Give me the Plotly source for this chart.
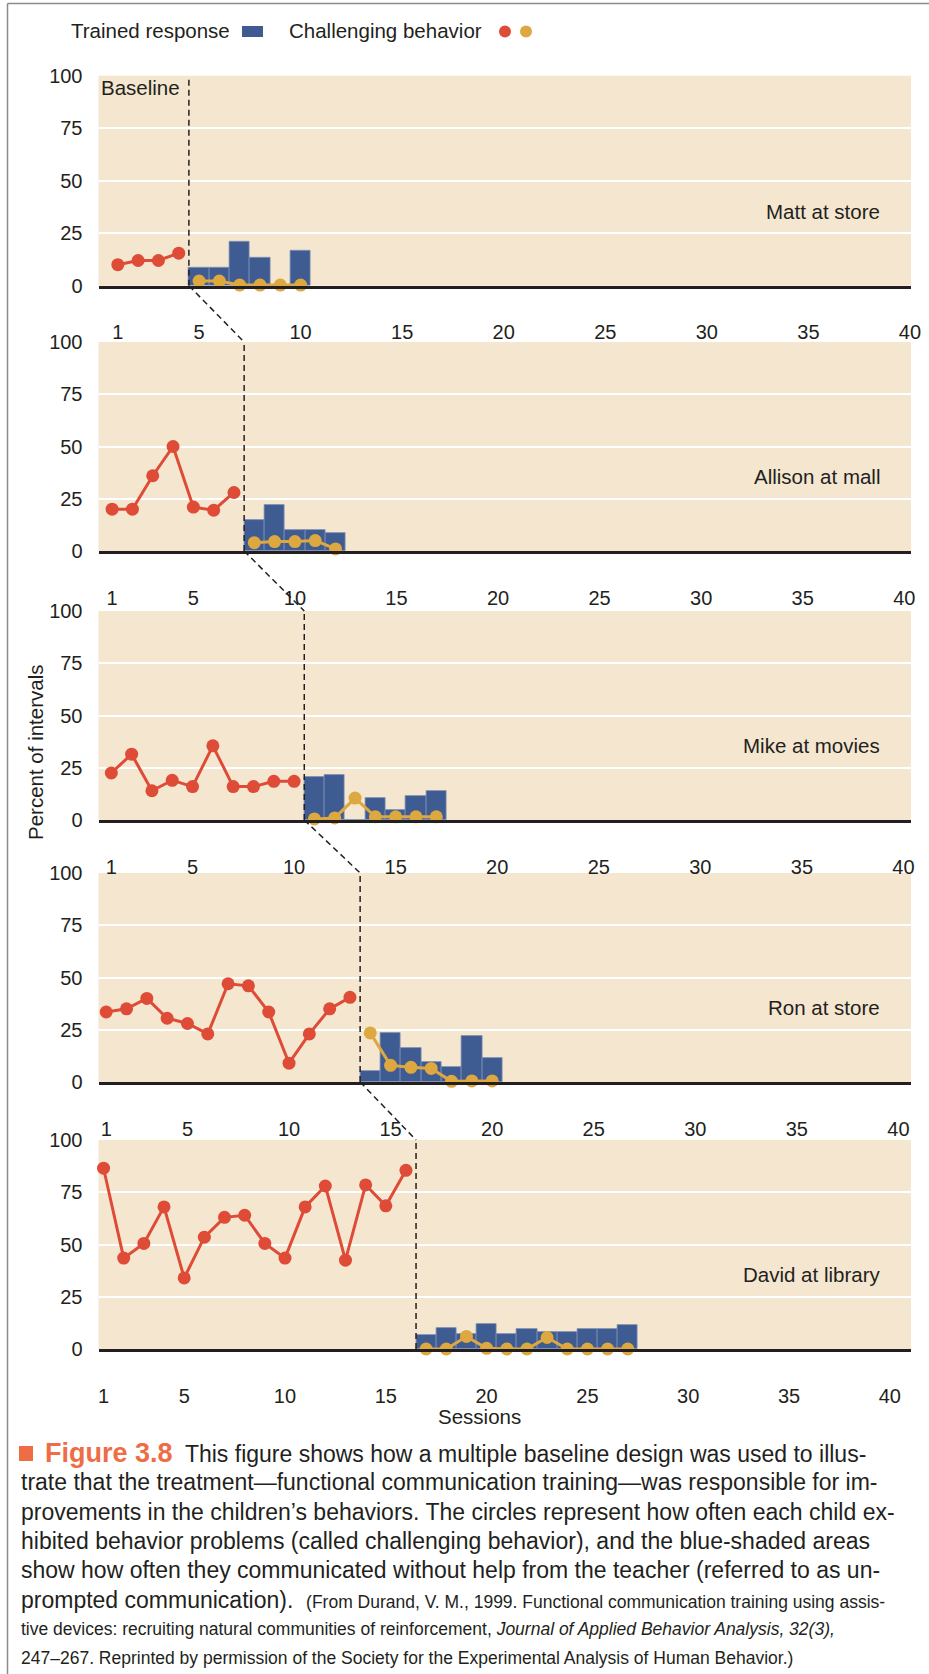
import plotly.graph_objects as go

W, H = 929, 1674

# ---------------- data ----------------
panel_names = ["Matt at store", "Allison at mall", "Mike at movies", "Ron at store", "David at library"]

matt_baseline = [10, 12, 12, 15.5]
matt_trained = [8.5, 8.5, 21, 13.5, 0, 16.5]
matt_challenging = [2.2, 2.2, 0.3, 0.3, 0.3, 0.3]

allison_baseline = [20, 20, 36, 50, 21, 19.5, 28]
allison_trained = [15, 22, 10, 10, 8.5]
allison_challenging = [4, 4.5, 4.5, 5, 1]

mike_baseline = [22.5, 31.5, 14, 19, 16, 35.5, 16, 16, 18.5, 18.5]
mike_trained = [20.5, 21.5, 0, 10.5, 5, 11.5, 14]
mike_challenging = [0.5, 1, 10.5, 1.5, 1.5, 1.5, 1.5]

ron_baseline = [33.5, 35, 40, 30.5, 28, 23, 47, 46, 33.5, 9, 23, 35, 40.5]
ron_trained = [5.5, 23.5, 16.5, 9.5, 7, 22, 11.5]
ron_challenging = [23.5, 8, 7, 6.5, 0.3, 0.5, 0.5]

david_baseline = [86.5, 43.5, 50.5, 68, 34, 53.5, 63, 64, 50.5, 43.5, 68, 78, 42.5, 78.5, 68.5, 85.5]
david_trained = [6.5, 10, 7, 12, 7, 9.5, 8, 8, 9.5, 9.5, 11.5]
david_challenging = [0, 0, 6, 0.3, 0, 0, 5.5, 0, 0, 0, 0]

x_tick_labels = [1, 5, 10, 15, 20, 25, 30, 35, 40]
y_tick_labels = [0, 25, 50, 75, 100]

baselines = [matt_baseline, allison_baseline, mike_baseline, ron_baseline, david_baseline]
trained = [matt_trained, allison_trained, mike_trained, ron_trained, david_trained]
challenging = [matt_challenging, allison_challenging, mike_challenging, ron_challenging, david_challenging]

# ---------------- style / layout ----------------
BG = "#F5E6D0"
BLUE = "#3E5B92"
RED = "#DE4B36"
YELLOW = "#DCA83F"
TXT = "#231F20"
ORANGE = "#EF6D45"
FONT = "Liberation Sans, Arial, Helvetica, sans-serif"

PLOT_L, PLOT_R = 98.5, 911.0
panel_tops = [75.7, 342, 611, 873, 1140]
panel_bottoms = [285.7, 551, 820, 1082, 1349]
x_ranges = [(0.05, 40.05), (0.33, 40.33), (0.37, 40.37), (0.62, 40.62), (0.75, 41.05)]


def px_x(k, s):
    a, b = x_ranges[k]
    return PLOT_L + (s - a) / (b - a) * (PLOT_R - PLOT_L)


def pap_x(px):
    return px / W


def pap_y(py):
    return 1 - py / H


fig = go.Figure()
shapes = []
annotations = []

for k in range(5):
    xa = "x" if k == 0 else f"x{k+1}"
    ya = "y" if k == 0 else f"y{k+1}"
    nb = len(baselines[k])
    base_sessions = list(range(1, nb + 1))
    treat_sessions = list(range(nb + 1, nb + 1 + len(trained[k])))

    fig.add_trace(go.Bar(
        x=treat_sessions, y=trained[k], width=1,
        marker=dict(color=BLUE, line=dict(color="#7D90B6", width=0.8)),
        xaxis=xa, yaxis=ya, showlegend=False, hoverinfo="skip",
    ))
    fig.add_trace(go.Scatter(
        x=base_sessions, y=baselines[k], mode="lines+markers",
        line=dict(color=RED, width=3), marker=dict(color=RED, size=13),
        xaxis=xa, yaxis=ya, cliponaxis=False, showlegend=False, hoverinfo="skip",
    ))
    fig.add_trace(go.Scatter(
        x=treat_sessions, y=challenging[k], mode="lines+markers",
        line=dict(color=YELLOW, width=3), marker=dict(color=YELLOW, size=13),
        xaxis=xa, yaxis=ya, cliponaxis=False, showlegend=False, hoverinfo="skip",
    ))

    axis_key = "xaxis" if k == 0 else f"xaxis{k+1}"
    yaxis_key = "yaxis" if k == 0 else f"yaxis{k+1}"
    fig.update_layout({
        axis_key: dict(
            domain=[pap_x(PLOT_L), pap_x(PLOT_R)], range=list(x_ranges[k]),
            anchor=ya, tickvals=x_tick_labels, ticktext=[str(v) for v in x_tick_labels],
            showgrid=False, zeroline=False, showline=True, linecolor=TXT, linewidth=2.5,
            ticks="outside", ticklen=27, tickcolor="rgba(0,0,0,0)",
            tickfont=dict(family=FONT, size=20, color=TXT), fixedrange=True,
        ),
        yaxis_key: dict(
            domain=[pap_y(panel_bottoms[k]), pap_y(panel_tops[k])], range=[0, 100],
            anchor=xa, tickvals=y_tick_labels, ticktext=[str(v) for v in y_tick_labels],
            showgrid=True, gridcolor="white", gridwidth=2, zeroline=False, showline=False,
            ticks="outside", ticklen=11, tickcolor="rgba(0,0,0,0)",
            tickfont=dict(family=FONT, size=20, color=TXT), fixedrange=True,
        ),
    })

    # phase-change dashed line
    phase = nb + 0.5
    shapes.append(dict(type="line", xref=xa, yref=ya, x0=phase, x1=phase, y0=0, y1=100,
                       line=dict(color=TXT, width=1.5, dash="6px,4px"), layer="above"))
    if k < 4:
        nxt = len(baselines[k + 1]) + 0.5
        shapes.append(dict(type="line", xref="paper", yref="paper",
                           x0=pap_x(px_x(k, phase)), y0=pap_y(panel_bottoms[k]),
                           x1=pap_x(px_x(k + 1, nxt)), y1=pap_y(panel_tops[k + 1]),
                           line=dict(color=TXT, width=1.5, dash="6px,4px")))

    annotations.append(dict(
        text=panel_names[k], xref=f"{xa} domain", yref=ya,
        x=(882 - PLOT_L) / (PLOT_R - PLOT_L), y=35.5, xanchor="right", yanchor="middle",
        showarrow=False, font=dict(family=FONT, size=20.5, color=TXT),
    ))

# Baseline label
annotations.append(dict(text="Baseline", xref="x domain", yref="y", x=0.0, y=94.5,
                        xanchor="left", yanchor="middle", showarrow=False,
                        font=dict(family=FONT, size=20.5, color=TXT)))

# axis titles
annotations.append(dict(text="Percent of intervals", xref="paper", yref="paper",
                        x=pap_x(35), y=pap_y(753), textangle=-90, showarrow=False,
                        xanchor="center", yanchor="middle",
                        font=dict(family=FONT, size=20.5, color=TXT)))
annotations.append(dict(text="Sessions", xref="paper", yref="paper",
                        x=pap_x(479), y=pap_y(1416), showarrow=False,
                        xanchor="center", yanchor="middle",
                        font=dict(family=FONT, size=20.5, color=TXT)))

# legend (text + key)
annotations.append(dict(text="Trained response", xref="paper", yref="paper",
                        x=pap_x(69), y=pap_y(31), xanchor="left", yanchor="middle",
                        showarrow=False, font=dict(family=FONT, size=20.5, color=TXT)))
annotations.append(dict(text="Challenging behavior", xref="paper", yref="paper",
                        x=pap_x(286.5), y=pap_y(31), xanchor="left", yanchor="middle",
                        showarrow=False, font=dict(family=FONT, size=20.5, color=TXT)))
shapes.append(dict(type="rect", xref="paper", yref="paper",
                   x0=pap_x(242), x1=pap_x(263), y0=pap_y(37), y1=pap_y(26),
                   fillcolor=BLUE, line=dict(width=0)))
for cx, col in [(505, RED), (526, YELLOW)]:
    shapes.append(dict(type="circle", xref="paper", yref="paper",
                       x0=pap_x(cx - 6), x1=pap_x(cx + 6), y0=pap_y(37.5), y1=pap_y(25.5),
                       fillcolor=col, line=dict(width=0)))

# frame border
shapes.append(dict(type="line", xref="paper", yref="paper", x0=pap_x(7.5), x1=pap_x(7.5),
                   y0=0, y1=pap_y(3.5), line=dict(color="#8C8C8C", width=1.5)))
shapes.append(dict(type="line", xref="paper", yref="paper", x0=pap_x(7.5), x1=1,
                   y0=pap_y(3.5), y1=pap_y(3.5), line=dict(color="#8C8C8C", width=1.5)))

# caption marker square
shapes.append(dict(type="rect", xref="paper", yref="paper",
                   x0=pap_x(19), x1=pap_x(33), y0=pap_y(1461), y1=pap_y(1446),
                   fillcolor=ORANGE, line=dict(width=0)))

# caption
SMALL = 'font-size:17.5px'
caption_lines = [
    f'<span style="color:{ORANGE}"><b><span style="font-size:27px">Figure 3.8</span></b></span>  This figure shows how a multiple baseline design was used to illus-',
    'trate that the treatment—functional communication training—was responsible for im-',
    'provements in the children’s behaviors. The circles represent how often each child ex-',
    'hibited behavior problems (called challenging behavior), and the blue-shaded areas',
    'show how often they communicated without help from the teacher (referred to as un-',
    f'prompted communication).  <span style="{SMALL}">(From Durand, V. M., 1999. Functional communication training using assis-</span>',
    f'<span style="{SMALL}">tive devices: recruiting natural communities of reinforcement, <i>Journal of Applied Behavior Analysis, 32(3),</i></span>',
    f'<span style="{SMALL}">247–267. Reprinted by permission of the Society for the Experimental Analysis of Human Behavior.)</span>',
]
for i, line in enumerate(caption_lines):
    annotations.append(dict(text=line, xref="paper", yref="paper",
                            x=pap_x(43 if i == 0 else 19), y=pap_y(1453 + 29.3 * i),
                            xanchor="left", yanchor="middle", showarrow=False, align="left",
                            font=dict(family=FONT, size=23, color=TXT)))

fig.update_layout(
    width=W, height=H, template="none",
    paper_bgcolor="white", plot_bgcolor=BG,
    margin=dict(l=0, r=0, t=0, b=0, autoexpand=False),
    showlegend=False, bargap=0,
    shapes=shapes, annotations=annotations,
    font=dict(family=FONT, color=TXT),
)

fig.write_html("out.html", config={"displayModeBar": False},
               post_script="document.body.style.margin='0';")
